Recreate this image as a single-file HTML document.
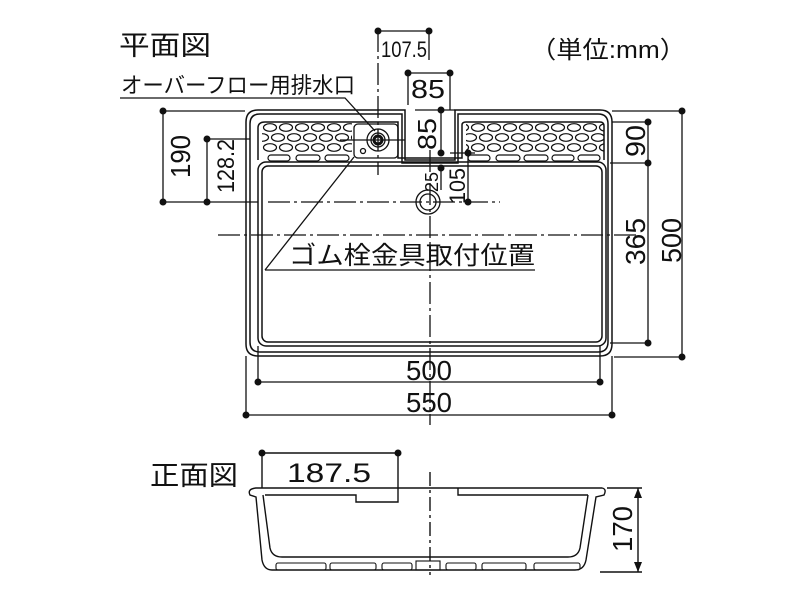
<!DOCTYPE html>
<html><head><meta charset="utf-8"><style>
html,body{margin:0;padding:0;background:#fff;width:800px;height:600px;overflow:hidden}
text{font-family:"Liberation Sans","Noto Sans CJK JP",sans-serif;fill:#111}
</style></head><body>
<svg width="800" height="600" viewBox="0 0 800 600" xmlns="http://www.w3.org/2000/svg">
<defs>
<pattern id="holes" x="262" y="123" width="16" height="20" patternUnits="userSpaceOnUse">
<ellipse cx="8" cy="4.5" rx="6.5" ry="3.8" fill="none" stroke="#111" stroke-width="1.2"/>
<ellipse cx="16" cy="14.5" rx="6.5" ry="3.8" fill="none" stroke="#111" stroke-width="1.2"/>
<ellipse cx="0" cy="14.5" rx="6.5" ry="3.8" fill="none" stroke="#111" stroke-width="1.2"/>
</pattern>
</defs>
<g stroke="#111" fill="none" stroke-width="1.5">
<path d="M258,110 H405 V160 H455 V110 H600 Q612,110 612,122 V344 Q612,356 600,356 H258 Q246,356 246,344 V122 Q246,110 258,110 Z"/>
<path d="M260,114 H402 V163 H458 V114 H598 Q608,114 608,124 V342 Q608,352 598,352 H260 Q250,352 250,342 V124 Q250,114 260,114 Z"/>
<path d="M265,122 H398 V158 H462 V125 Q462,122 466,122 H600 Q604,122 604,126 V160"/>
<path d="M265,122 Q258,122 258,128 V160"/>
<rect x="258" y="162" width="348" height="184" rx="8"/>
<rect x="262" y="166" width="340" height="176" rx="6"/>
</g>
<rect x="262" y="123" width="90" height="30" fill="url(#holes)"/>
<rect x="466" y="123" width="138" height="30" fill="url(#holes)"/>
<g stroke="#111" fill="none" stroke-width="1.2">
<rect x="268" y="155" width="22" height="6" rx="3"/><rect x="296" y="155" width="24" height="6" rx="3"/><rect x="325" y="155" width="24" height="6" rx="3"/>
<rect x="468" y="155" width="22" height="6" rx="3"/><rect x="496" y="155" width="24" height="6" rx="3"/><rect x="524" y="155" width="24" height="6" rx="3"/><rect x="552" y="155" width="22" height="6" rx="3"/><rect x="578" y="155" width="22" height="6" rx="3"/>
</g>
<g stroke="#111" fill="none" stroke-width="1.3">
<rect x="354" y="124" width="44" height="34" rx="4"/>
<circle cx="378" cy="140" r="11"/><circle cx="378" cy="140" r="7"/><circle cx="378" cy="140" r="4" stroke-width="3"/>
<circle cx="363" cy="151" r="2.5"/>
<circle cx="428" cy="202" r="12"/><circle cx="428" cy="202" r="8"/>
<line x1="218" y1="235" x2="640" y2="235" stroke-dasharray="22,4,3,4"/>
<line x1="268" y1="202" x2="500" y2="202" stroke-dasharray="22,4,3,4"/>
<line x1="430" y1="150" x2="430" y2="425" stroke-dasharray="22,4,3,4"/>
<line x1="378" y1="30" x2="378" y2="175" stroke-dasharray="22,4,3,4"/>
<line x1="340" y1="140" x2="405" y2="140"/>
<line x1="378" y1="31" x2="429" y2="31"/><line x1="429" y1="31" x2="429" y2="60"/>
<line x1="408" y1="73" x2="450" y2="73"/><line x1="408" y1="73" x2="408" y2="105"/><line x1="450" y1="73" x2="450" y2="110"/>
<line x1="441" y1="110" x2="441" y2="153"/><line x1="415" y1="110" x2="455" y2="110"/>
<line x1="441" y1="168" x2="441" y2="190"/>
<line x1="450" y1="153" x2="475" y2="153"/><line x1="468" y1="153" x2="468" y2="202"/>
<line x1="163" y1="111" x2="245" y2="111"/><line x1="163" y1="111" x2="163" y2="202"/>
<line x1="163" y1="202" x2="258" y2="202"/>
<line x1="207" y1="139" x2="250" y2="139"/><line x1="207" y1="139" x2="207" y2="202"/>
<line x1="612" y1="122" x2="650" y2="122"/><line x1="610" y1="163" x2="650" y2="163"/><line x1="610" y1="343" x2="650" y2="343"/>
<line x1="648" y1="122" x2="648" y2="343"/>
<line x1="612" y1="111" x2="684" y2="111"/><line x1="614" y1="357" x2="684" y2="357"/><line x1="682" y1="111" x2="682" y2="357"/>
<line x1="258" y1="346" x2="258" y2="385"/><line x1="600" y1="346" x2="600" y2="385"/><line x1="258" y1="382" x2="600" y2="382"/>
<line x1="246" y1="356" x2="246" y2="418"/><line x1="612" y1="356" x2="612" y2="418"/><line x1="246" y1="415" x2="612" y2="415"/>
<path d="M120,98 H345 L375,131"/>
<path d="M265,270 H535"/><path d="M265,270 L354,157"/>
</g>
<g fill="#111">
<circle cx="378" cy="31" r="3.5"/><circle cx="429" cy="31" r="3.5"/>
<circle cx="408" cy="73" r="3.5"/><circle cx="450" cy="73" r="3.5"/>
<circle cx="441" cy="110" r="3.5"/><circle cx="441" cy="153" r="3.5"/><circle cx="441" cy="168" r="3.5"/>
<circle cx="468" cy="153" r="3.5"/><circle cx="468" cy="202" r="3.5"/>
<circle cx="163" cy="111" r="3.5"/><circle cx="163" cy="202" r="3.5"/><circle cx="207" cy="139" r="3.5"/><circle cx="207" cy="202" r="3.5"/>
<circle cx="648" cy="122" r="3.5"/><circle cx="648" cy="163" r="3.5"/><circle cx="648" cy="343" r="3.5"/>
<circle cx="682" cy="111" r="3.5"/><circle cx="682" cy="357" r="3.5"/>
<circle cx="258" cy="382" r="3.5"/><circle cx="600" cy="382" r="3.5"/><circle cx="246" cy="415" r="3.5"/><circle cx="612" cy="415" r="3.5"/>
<circle cx="262" cy="453" r="3.5"/><circle cx="398" cy="453" r="3.5"/>
</g>
<g stroke="#111" fill="none" stroke-width="1.4">
<path d="M256,488 H602 Q607,489 604,495 L596,497 L586,560 Q584,570 575,570 H272 Q264,570 262,560 L256,497 L250,495 Q247,489 256,488 Z"/>
<path d="M263,495 L270,548 Q272,557 282,557 H568 Q578,557 580,548 L588,495"/>
<path d="M265,495 H356 V502 H398 V488"/>
<path d="M458,488 V495 H588"/>
<g stroke-width="1.1">
<rect x="276" y="563" width="50" height="7" rx="2"/><rect x="330" y="563" width="46" height="7" rx="2"/>
<rect x="382" y="563" width="30" height="7" rx="2"/><rect x="416" y="561" width="24" height="9"/>
<rect x="446" y="563" width="30" height="7" rx="2"/><rect x="482" y="563" width="44" height="7" rx="2"/><rect x="534" y="563" width="46" height="7" rx="2"/>
</g>
<line x1="262" y1="453" x2="398" y2="453"/><line x1="262" y1="453" x2="262" y2="488"/><line x1="398" y1="453" x2="398" y2="488"/>
<line x1="430" y1="472" x2="430" y2="575" stroke-dasharray="14,4,3,4"/>
<line x1="607" y1="488" x2="642" y2="488"/><line x1="600" y1="572" x2="642" y2="572"/><line x1="638" y1="488" x2="638" y2="572"/>
</g>
<path d="M634,498 L638,488 L642,498 Z M634,562 L638,572 L642,562 Z" fill="#111"/>
<text x="119" y="55" font-size="27" textLength="92" lengthAdjust="spacingAndGlyphs">平面図</text>
<text x="121" y="93" font-size="22" textLength="234" lengthAdjust="spacingAndGlyphs">オーバーフロー用排水口</text>
<text x="530" y="58" font-size="24" textLength="156" lengthAdjust="spacingAndGlyphs">（単位:mm）</text>
<text x="381" y="57" font-size="22" textLength="46" lengthAdjust="spacingAndGlyphs">107.5</text>
<text x="411" y="98" font-size="26" textLength="34" lengthAdjust="spacingAndGlyphs">85</text>
<text x="289" y="264" font-size="25" textLength="246" lengthAdjust="spacingAndGlyphs">ゴム栓金具取付位置</text>
<text x="406" y="380" font-size="28" textLength="46" lengthAdjust="spacingAndGlyphs">500</text>
<text x="406" y="412" font-size="28" textLength="46" lengthAdjust="spacingAndGlyphs">550</text>
<text x="150" y="485" font-size="27" textLength="88" lengthAdjust="spacingAndGlyphs">正面図</text>
<text x="287" y="482" font-size="27" textLength="84" lengthAdjust="spacingAndGlyphs">187.5</text>
<text font-size="28" transform="translate(190,178) rotate(-90)" textLength="43" lengthAdjust="spacingAndGlyphs">190</text>
<text font-size="24" transform="translate(234,193) rotate(-90)" textLength="54" lengthAdjust="spacingAndGlyphs">128.2</text>
<text font-size="26" transform="translate(436,150) rotate(-90)" textLength="32" lengthAdjust="spacingAndGlyphs">85</text>
<text font-size="18" transform="translate(438,192) rotate(-90)" textLength="20" lengthAdjust="spacingAndGlyphs">25</text>
<text font-size="22" transform="translate(465,204) rotate(-90)" textLength="36" lengthAdjust="spacingAndGlyphs">105</text>
<text font-size="28" transform="translate(645,157) rotate(-90)" textLength="32" lengthAdjust="spacingAndGlyphs">90</text>
<text font-size="28" transform="translate(645,265) rotate(-90)" textLength="47" lengthAdjust="spacingAndGlyphs">365</text>
<text font-size="28" transform="translate(681,263) rotate(-90)" textLength="45" lengthAdjust="spacingAndGlyphs">500</text>
<text font-size="28" transform="translate(632,552) rotate(-90)" textLength="46" lengthAdjust="spacingAndGlyphs">170</text>
</svg>
</body></html>
